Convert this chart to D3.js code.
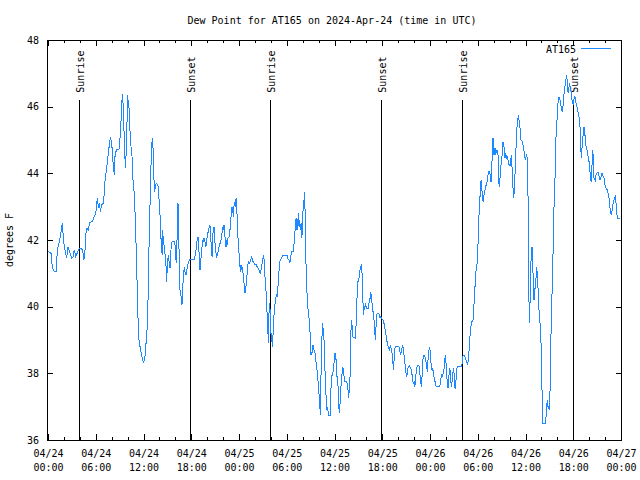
<!DOCTYPE html>
<meta charset="utf-8">
<script src="https://cdn.jsdelivr.net/npm/d3@7/dist/d3.min.js"></script>
<style>
body{margin:0; background:#fff;}
svg text{font-family:"DejaVu Sans Mono", monospace; font-size:10px; fill:#000;}
.frame{fill:none; stroke:#000; stroke-width:1;}
.axis path.domain{display:none;}
.axis line{stroke:#000;}
.sun-line{stroke:#000; stroke-width:1;}
.series{fill:none; stroke:#1e88ff; stroke-width:1;}
</style>

<div id="vis"></div>

<script>

// Dew point readings: [minutes after 2024-04-24 00:00 UTC, degrees F]
const apr24 = [[0,41.67],[23,41.6],[30,41.3],[32,41.2],[45,41.07],[63,41.07],[70,41.7],[83,41.9],[93,42.1],[103,42.4],[108,42.5],[115,42.1],[123,41.8],[133,41.6],[141,41.45],[149,41.8],[158,41.7],[168,41.6],[179,41.45],[189,41.5],[198,41.7],[209,41.5],[219,41.6],[228,41.7],[239,41.75],[254,41.75],[264,41.6],[271,41.4],[279,41.7],[284,42.15],[294,42.35],[304,42.3],[314,42.52],[334,42.55],[354,42.75],[364,42.9],[369,43.15],[375,43.25],[379,42.95],[390,43.1],[394,42.85],[405,43.05],[415,43.1],[425,43.4],[430,43.8],[440,44.1],[450,44.4],[455,44.65],[465,44.9],[470,45.1],[475,45.0],[485,44.7],[490,44.35],[495,44.15],[500,43.95],[505,44.5],[515,44.7],[535,44.72],[545,45.15],[556,46.0],[560,46.38],[566,46.1],[571,45.66],[575,44.9],[581,44.4],[586,44.15],[590,44.8],[596,45.6],[601,46.35],[605,46.1],[611,45.95],[616,45.4],[626,44.8],[636,44.4],[641,43.8],[651,43.35],[656,42.85],[661,42.4],[666,41.4],[671,40.8],[676,39.9],[686,39.0],[694,38.8],[701,38.65],[711,38.45],[720,38.3],[731,38.5],[739,38.9],[744,39.0],[754,40.2],[764,42.3],[774,43.8],[779,44.65],[786,45.05],[794,44.65],[799,43.8],[805,43.45],[809,43.65],[820,43.7],[829,43.65],[835,43.35],[844,42.8],[850,42.3],[854,41.8],[862,41.55],[865,42.3],[869,42.0],[877,41.8],[884,41.5],[890,41.2],[895,40.75],[900,41.3],[907,41.55],[915,41.3],[920,41.15],[927,41.7],[935,41.95],[955,41.95],[960,41.75],[963,41.45],[970,41.3],[975,42.6],[980,43.1],[985,42.4],[990,41.2],[995,40.5],[1001,40.4],[1005,40.2],[1010,40.05],[1016,40.5],[1020,40.9],[1028,41.2],[1033,41.05],[1041,40.95],[1046,41.1],[1056,41.3],[1063,41.38],[1071,41.43],[1106,41.43],[1111,41.6],[1116,41.7],[1121,41.9],[1126,42.05],[1131,42.1],[1136,41.8],[1141,41.5],[1146,41.1],[1151,41.3],[1156,41.6],[1163,41.85],[1171,42.05],[1176,41.95],[1181,42.05],[1186,41.85],[1191,41.8],[1197,42.0],[1201,42.15],[1212,42.3],[1216,42.4],[1221,42.45],[1227,42.1],[1231,41.8],[1237,41.5],[1242,42.1],[1246,42.3],[1252,42.4],[1257,42.0],[1267,41.6],[1272,41.5],[1277,41.55],[1284,41.7],[1297,41.9],[1307,42.05],[1312,42.2],[1317,42.4],[1322,42.35],[1327,42.45],[1332,42.2],[1337,42.0],[1342,41.8],[1347,41.95],[1352,41.9],[1357,42.05],[1367,42.1],[1372,42.3],[1382,42.8],[1387,43.0],[1393,42.9],[1397,42.7],[1402,43.0],[1408,43.15],[1412,43.0],[1418,43.25],[1423,43.1],[1427,42.45],[1435,41.9]];

const apr25 = [[1445,41.35],[1450,41.05],[1455,41.25],[1460,41.15],[1465,41.2],[1476,40.8],[1485,40.4],[1491,40.55],[1498,40.85],[1506,41.2],[1510,41.35],[1521,41.3],[1528,41.4],[1536,41.5],[1546,41.35],[1556,41.28],[1566,41.28],[1576,41.2],[1586,41.15],[1596,41.05],[1601,40.98],[1606,41.1],[1616,41.35],[1626,41.55],[1631,41.3],[1636,40.9],[1641,40.65],[1646,40.3],[1651,39.85],[1657,39.4],[1661,38.9],[1666,39.8],[1672,40.1],[1676,39.7],[1681,39.2],[1687,39.1],[1691,38.8],[1697,39.2],[1702,39.6],[1706,39.9],[1712,40.1],[1717,40.25],[1721,40.35],[1727,40.3],[1732,40.4],[1736,40.8],[1742,41.1],[1747,41.35],[1752,41.4],[1762,41.45],[1767,41.52],[1802,41.55],[1807,41.45],[1817,41.4],[1822,41.3],[1827,41.4],[1832,41.55],[1838,41.65],[1847,41.65],[1857,41.95],[1862,42.25],[1868,42.6],[1872,42.65],[1877,42.3],[1883,42.5],[1887,42.8],[1893,42.4],[1898,42.6],[1902,42.3],[1908,42.5],[1913,42.05],[1917,42.25],[1923,42.9],[1928,43.0],[1933,43.45],[1938,42.9],[1943,41.7],[1948,40.8],[1958,40.0],[1968,39.65],[1978,39.1],[1983,38.55],[1988,38.6],[1993,38.65],[1998,38.85],[2003,38.75],[2008,38.65],[2013,38.6],[2018,38.5],[2023,38.2],[2028,38.1],[2034,37.9],[2038,37.6],[2043,37.4],[2049,37.1],[2053,36.75],[2058,37.9],[2064,38.8],[2068,39.5],[2074,39.35],[2079,39.2],[2083,38.8],[2089,38.0],[2094,37.6],[2098,37.15],[2104,36.9],[2109,37.0],[2113,36.75],[2129,36.75],[2134,37.6],[2139,37.9],[2149,38.05],[2154,38.2],[2159,38.45],[2164,38.6],[2172,38.4],[2177,38.0],[2181,37.8],[2187,37.6],[2192,37.1],[2196,36.8],[2202,37.1],[2207,37.5],[2212,37.8],[2217,38.0],[2222,38.2],[2227,38.1],[2232,37.9],[2237,37.75],[2247,37.75],[2257,37.7],[2262,37.5],[2267,37.25],[2272,37.6],[2277,37.9],[2282,39.0],[2287,39.6],[2292,39.45],[2297,39.1],[2317,39.05],[2322,39.4],[2328,40.05],[2332,40.5],[2337,40.75],[2343,40.8],[2347,40.95],[2352,41.1],[2358,41.15],[2362,41.28],[2368,41.0],[2373,40.45],[2377,39.75],[2383,40.0],[2388,39.9],[2392,40.1],[2398,40.0],[2403,39.95],[2413,39.95],[2418,40.05],[2423,40.2],[2428,40.25],[2433,40.45],[2438,40.3],[2443,40.1],[2448,39.95],[2453,39.75],[2458,39.6],[2463,39.3],[2468,39.0],[2473,39.4],[2478,39.75],[2483,39.8],[2494,39.8],[2498,39.75],[2503,39.65],[2509,39.7],[2513,39.65],[2528,39.6],[2533,39.5],[2539,39.4],[2543,39.25],[2549,39.15],[2554,39.0],[2558,38.9],[2564,38.8],[2569,38.75],[2573,38.7],[2579,38.8],[2584,38.85],[2588,38.7],[2594,38.6],[2599,38.4],[2604,38.1],[2609,38.4],[2614,38.7],[2619,38.82],[2644,38.82],[2649,38.75],[2654,38.65],[2659,38.55],[2664,38.65],[2669,38.75],[2674,38.85],[2679,38.75],[2684,38.55],[2690,38.35],[2694,38.15],[2699,38.0],[2705,37.9],[2709,38.05],[2714,38.15],[2720,38.2],[2724,38.22],[2729,38.2],[2735,38.15],[2739,38.1],[2745,37.95],[2750,37.8],[2754,37.7],[2760,37.75],[2765,37.6],[2769,37.7],[2775,38.0],[2780,38.15],[2785,38.25],[2795,38.25],[2800,38.15],[2805,37.95],[2810,37.75],[2815,37.6],[2820,37.9],[2825,38.3],[2830,38.55],[2840,38.55],[2845,38.45],[2850,38.35],[2855,38.2],[2860,38.05],[2865,38.4],[2870,38.6],[2875,38.8]];

const apr26 = [[2880,38.7],[2886,38.35],[2890,38.25],[2895,38.1],[2901,38.15],[2905,38.0],[2910,37.9],[2916,37.8],[2920,37.7],[2926,37.6],[2946,37.6],[2956,37.65],[2961,37.8],[2966,37.95],[2971,37.9],[2976,37.95],[2981,38.05],[2986,38.15],[2991,38.4],[2996,38.55],[3001,38.3],[3006,37.95],[3011,37.7],[3016,37.55],[3021,37.75],[3026,38.15],[3031,38.1],[3036,37.8],[3041,37.6],[3046,37.75],[3051,37.9],[3056,38.15],[3061,38.0],[3066,37.6],[3071,37.52],[3076,37.8],[3082,38.1],[3086,38.22],[3116,38.22],[3122,38.3],[3127,38.5],[3131,38.55],[3142,38.55],[3146,38.45],[3152,38.4],[3157,38.35],[3162,38.25],[3167,38.35],[3172,38.55],[3177,38.8],[3184,39.3],[3195,39.55],[3205,39.6],[3214,40.25],[3220,40.65],[3225,41.0],[3235,41.3],[3240,41.6],[3245,42.3],[3250,42.8],[3255,43.3],[3260,43.3],[3265,43.8],[3270,43.6],[3275,43.3],[3280,43.15],[3285,43.3],[3290,43.4],[3295,43.5],[3300,43.6],[3310,43.75],[3315,43.85],[3320,44.05],[3330,44.05],[3335,43.9],[3340,43.75],[3346,44.2],[3350,44.6],[3355,45.05],[3361,44.55],[3365,44.75],[3370,44.55],[3376,44.75],[3380,44.6],[3385,44.7],[3391,44.65],[3395,44.45],[3401,43.6],[3406,43.8],[3410,43.9],[3416,44.3],[3421,44.35],[3425,44.7],[3431,44.95],[3436,44.85],[3441,44.7],[3446,44.45],[3451,44.6],[3456,44.45],[3461,44.5],[3466,44.45],[3471,44.35],[3476,44.25],[3483,44.25],[3486,44.45],[3491,44.2],[3496,44.55],[3501,43.8],[3506,43.55],[3511,43.25],[3516,43.5],[3521,44.0],[3526,44.45],[3531,45.05],[3536,45.4],[3542,45.6],[3546,45.75],[3551,45.6],[3557,45.45],[3561,45.2],[3566,45.0],[3576,44.95],[3582,44.85],[3587,44.75],[3591,44.55],[3599,44.4],[3604,44.5],[3609,44.55],[3614,44.4],[3619,43.3],[3624,40.8],[3629,39.5],[3634,40.1],[3640,41.2],[3644,41.6],[3649,41.8],[3655,41.3],[3659,40.6],[3664,40.2],[3670,40.5],[3674,40.6],[3680,40.9],[3685,41.2],[3689,40.9],[3695,40.5],[3700,40.0],[3704,39.8],[3715,39.2],[3719,38.6],[3725,37.4],[3730,36.5],[3750,36.5],[3755,36.7],[3760,37.1],[3765,37.15],[3770,37.0],[3775,36.95],[3780,36.9],[3785,37.5],[3790,38.8],[3795,39.6],[3800,40.4],[3805,41.2],[3810,42.0],[3815,43.0],[3821,43.55],[3825,44.4],[3830,45.1],[3836,45.4],[3840,45.9],[3845,46.1],[3851,46.3],[3855,46.25],[3860,46.2],[3866,46.1],[3870,45.95],[3876,45.85],[3881,45.95],[3885,46.1],[3891,46.4],[3896,46.55],[3900,46.7],[3906,46.85],[3911,46.95],[3916,46.65],[3921,46.4],[3926,46.5],[3931,46.7],[3936,46.6],[3941,46.5],[3946,46.4],[3951,46.2],[3956,46.1],[3961,46.05],[3966,46.25],[3971,46.3],[3976,46.25],[3981,46.1],[3986,46.05],[3991,45.95],[3996,45.85],[4001,45.8],[4006,45.55],[4011,45.4],[4017,44.75],[4021,44.45],[4026,44.75],[4032,45.0],[4036,45.3],[4041,45.4],[4047,45.2],[4051,45.05],[4057,44.8],[4062,44.75],[4066,44.65],[4072,44.5],[4077,44.4],[4081,44.3],[4087,44.0],[4092,43.8],[4097,43.75],[4102,44.3],[4107,44.7],[4112,44.4],[4117,43.8],[4122,43.85],[4127,43.8],[4132,43.95],[4137,44.0],[4147,44.02],[4152,43.95],[4157,43.9],[4162,43.8],[4167,43.85],[4172,43.95],[4177,44.0],[4182,43.95],[4187,43.9],[4192,43.85],[4198,43.7],[4202,43.6],[4207,43.55],[4217,43.5],[4222,43.4],[4228,43.3],[4232,43.2],[4237,42.95],[4243,42.8],[4247,42.75],[4253,42.9],[4258,43.0],[4262,43.15],[4268,43.2],[4273,43.25],[4277,43.35],[4283,43.1],[4288,42.8],[4293,42.65],[4313,42.65]];

const sunrise = ["2024-04-24T03:56Z", "2024-04-25T03:56Z", "2024-04-26T04:03Z"];
const sunset  = ["2024-04-24T17:53Z", "2024-04-25T17:53Z", "2024-04-26T18:01Z"];
const yTicks = [36, 38, 40, 42, 44, 46, 48];
const station = "AT165";

// Frame
const w = 640, h = 480;
const margin = {top: 40, right: 19, bottom: 40, left: 48};

const t0 = new Date("2024-04-24T00:00Z"), t1 = new Date("2024-04-27T00:00Z");

let svg = d3.select("#vis").append("svg")
    .attr("width", w)
    .attr("height", h)
    .attr("shape-rendering", "crispEdges");

let x = d3.scaleUtc().domain([t0, t1]).range([margin.left, w - margin.right]);
let y = d3.scaleLinear().domain([36, 48]).range([h - margin.bottom, margin.top]);

const data = apr24.concat(apr25, apr26)
  .map(d => ({t: d3.utcMinute.offset(t0, d[0]), v: d[1]}));

// Title
svg.append("text")
    .attr("x", 332).attr("y", 24)
    .attr("text-anchor", "middle")
    .text("Dew Point for " + station + " on 2024-Apr-24 (time in UTC)");

// y label
svg.append("text")
    .attr("transform", "translate(13,240) rotate(-90)")
    .attr("text-anchor", "middle")
    .text("degrees F");

// Axes: bottom (labels + major), minor, top, left, right
const fmtDay = d3.utcFormat("%m/%d"), fmtHr = d3.utcFormat("%H:%M");

let gx = svg.append("g").attr("class", "axis")
    .attr("transform", "translate(0," + y(36) + ")")
    .call(d3.axisBottom(x).ticks(d3.utcHour.every(6)).tickSize(-6).tickPadding(0));

gx.selectAll(".tick text").each(function(d) {
  const t = d3.select(this).attr("y", null).attr("dy", null).text("");
  t.append("tspan").attr("x", 0).attr("y", 17).text(fmtDay(d));
  t.append("tspan").attr("x", 0).attr("y", 31).text(fmtHr(d));
});

svg.append("g").attr("class", "axis")
    .attr("transform", "translate(0," + y(36) + ")")
    .call(d3.axisBottom(x).ticks(d3.utcHour.every(2)).tickSize(-3).tickFormat(""));

svg.append("g").attr("class", "axis")
    .attr("transform", "translate(0," + y(48) + ")")
    .call(d3.axisTop(x).ticks(d3.utcHour.every(6)).tickSize(-6).tickFormat(""));

svg.append("g").attr("class", "axis")
    .attr("transform", "translate(0," + y(48) + ")")
    .call(d3.axisTop(x).ticks(d3.utcHour.every(2)).tickSize(-3).tickFormat(""));

svg.append("g").attr("class", "axis")
    .attr("transform", "translate(" + margin.left + ",0)")
    .call(d3.axisLeft(y).tickValues(yTicks).tickSize(-5).tickPadding(9).tickFormat(d3.format("d")));

svg.append("g").attr("class", "axis")
    .attr("transform", "translate(" + (w - margin.right) + ",0)")
    .call(d3.axisRight(y).tickValues(yTicks).tickSize(-5).tickFormat(""));

// Sunrise / sunset markers
const sunEvents = sunrise.map(s => ({t: new Date(s), name: "Sunrise"}))
  .concat(sunset.map(s => ({t: new Date(s), name: "Sunset"})));

svg.selectAll(".sun-line")
  .data(sunEvents)
  .enter().append("line")
    .attr("class", "sun-line")
    .attr("x1", d => Math.round(x(d.t)) + 0.5)
    .attr("x2", d => Math.round(x(d.t)) + 0.5)
    .attr("y1", y(46.2))
    .attr("y2", y(36));

svg.selectAll(".sun-label")
  .data(sunEvents)
  .enter().append("text")
    .attr("class", "sun-label")
    .attr("transform", d => "translate(" + (Math.round(x(d.t)) + 1) + "," + y(46.24) + ") rotate(-90)")
    .attr("dy", "0.35em")
    .attr("dx", 6)
    .text(d => d.name);

// Series
svg.append("path")
    .datum(data)
    .attr("class", "series")
    .attr("d", d3.line().x(d => x(d.t)).y(d => y(d.v)));

// Legend
svg.append("text")
    .attr("x", 576).attr("y", 53)
    .attr("text-anchor", "end")
    .text(station);
svg.append("line")
    .attr("class", "series")
    .attr("x1", 581).attr("x2", 611)
    .attr("y1", 48.5).attr("y2", 48.5);

// Border
svg.append("rect")
    .attr("class", "frame")
    .attr("x", margin.left - 0.5).attr("y", margin.top)
    .attr("width", w - margin.left - margin.right + 1)
    .attr("height", h - margin.top - margin.bottom);

</script>
